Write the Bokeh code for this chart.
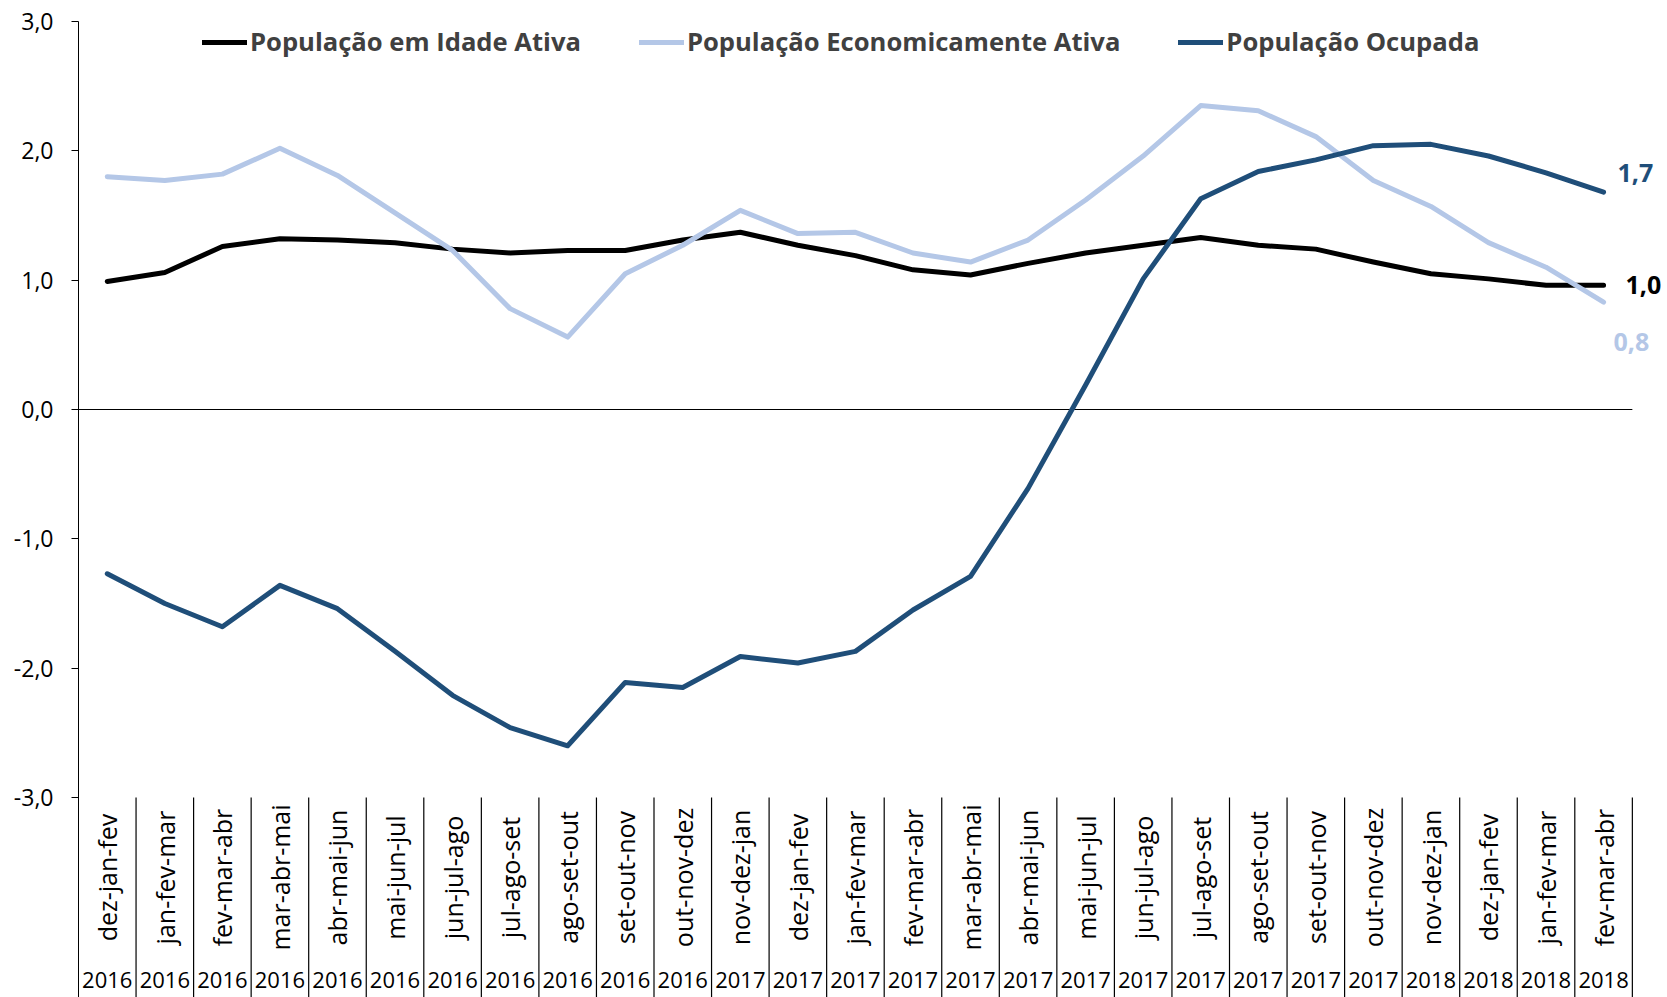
import math
from bokeh.plotting import figure
from bokeh.models import Range1d, FixedTicker, Legend, LegendItem, ColumnDataSource
from bokeh.core.properties import value
from bokeh.embed import file_html
from bokeh.resources import INLINE

# ---------------- data ----------------
periods = ["dez-jan-fev", "jan-fev-mar", "fev-mar-abr", "mar-abr-mai", "abr-mai-jun",
           "mai-jun-jul", "jun-jul-ago", "jul-ago-set", "ago-set-out", "set-out-nov",
           "out-nov-dez", "nov-dez-jan", "dez-jan-fev", "jan-fev-mar", "fev-mar-abr",
           "mar-abr-mai", "abr-mai-jun", "mai-jun-jul", "jun-jul-ago", "jul-ago-set",
           "ago-set-out", "set-out-nov", "out-nov-dez", "nov-dez-jan", "dez-jan-fev",
           "jan-fev-mar", "fev-mar-abr"]
years = ["2016"] * 11 + ["2017"] * 12 + ["2018"] * 4

pia = [0.99, 1.06, 1.26, 1.32, 1.31, 1.29, 1.24, 1.21, 1.23, 1.23, 1.31, 1.37, 1.27, 1.19,
       1.08, 1.04, 1.13, 1.21, 1.27, 1.33, 1.27, 1.24, 1.14, 1.05, 1.01, 0.96, 0.96]
pea = [1.80, 1.77, 1.82, 2.02, 1.81, 1.52, 1.23, 0.78, 0.56, 1.05, 1.27, 1.54, 1.36, 1.37,
       1.21, 1.14, 1.31, 1.62, 1.96, 2.35, 2.31, 2.11, 1.77, 1.57, 1.29, 1.10, 0.83]
po = [-1.27, -1.50, -1.68, -1.36, -1.54, -1.87, -2.21, -2.46, -2.60, -2.11, -2.15, -1.91,
      -1.96, -1.87, -1.55, -1.29, -0.61, 0.19, 1.01, 1.63, 1.84, 1.93, 2.04, 2.05, 1.96,
      1.83, 1.68]

series_names = ["População em Idade Ativa", "População Economicamente Ativa", "População Ocupada"]
series_values = [pia, pea, po]
series_colors = ["#000000", "#B4C7E7", "#1F4E79"]

y_ticks = [-3, -2, -1, 0, 1, 2, 3]

# ---------------- layout ----------------
W, H = 1667, 997
top_border = 21
left_border = 78
unit_y = 776 / 6.0
frame_h = H - top_border
y_top = 3.0
y_bottom = y_top - frame_h / unit_y
unit_x = 57.55
frame_w = W - left_border
n = len(periods)

FONT = "Open Sans"

p = figure(width=W, height=H, output_backend="svg", toolbar_location=None,
           x_range=Range1d(0, frame_w / unit_x), y_range=Range1d(y_bottom, y_top),
           x_axis_type=None, min_border_left=left_border, min_border_right=0,
           min_border_top=top_border, min_border_bottom=0)
p.grid.visible = False
p.outline_line_color = None
p.background_fill_color = "white"

yax = p.yaxis[0]
yax.ticker = FixedTicker(ticks=y_ticks)
yax.major_label_overrides = {t: f"{t:.1f}".replace(".", ",") for t in y_ticks}
yax.minor_tick_line_color = None
yax.major_tick_in = 0
yax.major_tick_out = 7
yax.major_tick_line_color = "black"
yax.axis_line_color = "black"
yax.major_label_standoff = 18
yax.major_label_text_font = FONT
yax.major_label_text_font_size = "23px"
yax.major_label_text_color = "black"

xs = [i + 0.5 for i in range(n)]

# zero line
p.segment(x0=[0], y0=[0], x1=[n], y1=[0], line_color="black", line_width=1.2)

# category separators
sep_x = list(range(1, n + 1))
p.segment(x0=sep_x, y0=[y_ticks[0]] * len(sep_x), x1=sep_x, y1=[y_bottom] * len(sep_x),
          line_color="black", line_width=1.2)

# category labels (rotated)
lab_y = y_ticks[0] - 80 / unit_y
p.text(x=xs, y=[lab_y] * n, text=periods, angle=math.pi / 2,
       text_align="center", text_baseline="middle",
       text_font=value(FONT), text_font_size="25px", text_color="black")

# year labels
yr_y = y_bottom + 18 / unit_y
p.text(x=xs, y=[yr_y] * n, text=years, text_align="center", text_baseline="middle",
       text_font=value(FONT), text_font_size="22px", text_color="black")

# series lines
renderers = []
for name, vals, col in zip(series_names, series_values, series_colors):
    src = ColumnDataSource(dict(x=xs, y=vals))
    r = p.line("x", "y", source=src, line_color=col, line_width=5,
               line_join="round", line_cap="round")
    renderers.append(r)

# end labels
end_offsets = [(22, 0), (10, 40), (14, -19)]
for vals, col, (dx, dy) in zip(series_values, series_colors, end_offsets):
    p.text(x=[xs[-1]], y=[vals[-1]], text=[f"{vals[-1]:.1f}".replace(".", ",")],
           x_offset=dx, y_offset=dy, text_align="left", text_baseline="middle",
           text_font=value(FONT), text_font_style="bold", text_font_size="25px",
           text_color=col)

legend = Legend(items=[LegendItem(label=nm, renderers=[r]) for nm, r in zip(series_names, renderers)],
                orientation="horizontal", location=(124, frame_h - 23 - 15),
                padding=0, margin=0, spacing=58, label_standoff=3,
                glyph_width=45, glyph_height=30, label_height=30,
                label_text_font=FONT, label_text_font_style="bold",
                label_text_font_size="25.6px", label_text_color="#404040",
                border_line_color=None, background_fill_alpha=0)
p.add_layout(legend, "center")

open("out.html", "w").write(file_html(p, INLINE))
